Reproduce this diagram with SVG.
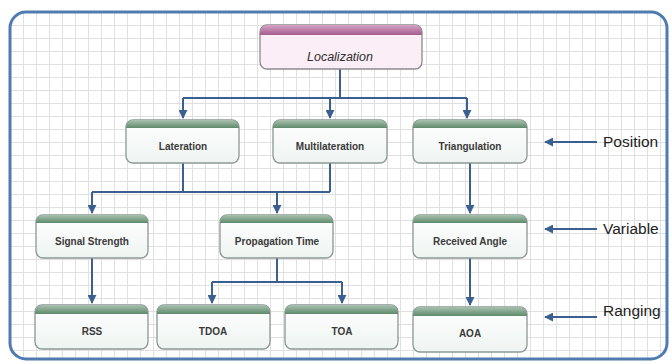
<svg xmlns="http://www.w3.org/2000/svg" width="672" height="364" viewBox="0 0 672 364">
<defs>
<pattern id="grid" width="13" height="13" patternUnits="userSpaceOnUse" x="10" y="12">
<rect width="13" height="13" fill="#ffffff"/>
<path d="M0 0.5H13M0.5 0V13" stroke="#e0e0e0" stroke-width="1" fill="none"/>
</pattern>
<linearGradient id="gHead" x1="0" y1="0" x2="0" y2="1">
<stop offset="0" stop-color="#a9c2b0"/><stop offset="1" stop-color="#5f8a6b"/>
</linearGradient>
<linearGradient id="pHead" x1="0" y1="0" x2="0" y2="1">
<stop offset="0" stop-color="#d6a3c5"/><stop offset="1" stop-color="#a35b8c"/>
</linearGradient>
<linearGradient id="gBody" x1="0" y1="0" x2="0" y2="1">
<stop offset="0" stop-color="#ffffff"/><stop offset="1" stop-color="#eef4f1"/>
</linearGradient>
<marker id="ah" viewBox="0 0 10 10" refX="9" refY="5" markerWidth="4.5" markerHeight="4.5" orient="auto" markerUnits="strokeWidth">
<path d="M0 0L10 5L0 10z" fill="#3b5f8e"/>
</marker>
<clipPath id="cLoc"><rect x="260" y="25" width="162" height="44" rx="7"/></clipPath>
</defs>
<style>
.box{fill:url(#gBody);stroke:#8c9796;stroke-width:1.3}
.hd{fill:url(#gHead)}
.lbl{font-family:"Liberation Sans",Arial,sans-serif;font-size:10px;font-weight:bold;fill:#3a3a3a;text-anchor:middle}
.side{font-family:"Liberation Sans",Arial,sans-serif;font-size:15.5px;fill:#222;}
.con{fill:none;stroke:#3b5f8e;stroke-width:2}
</style>
<rect x="0" y="0" width="672" height="364" fill="#ffffff"/>
<rect x="10" y="12" width="657" height="347" rx="16" fill="url(#grid)" stroke="#4f7bb0" stroke-width="3"/>

<g id="connectors">
<path class="con" d="M340 69V98M183 98H467"/>
<path class="con" d="M183 98V118" marker-end="url(#ah)"/>
<path class="con" d="M330 98V118" marker-end="url(#ah)"/>
<path class="con" d="M467 98V118" marker-end="url(#ah)"/>
<path class="con" d="M183 163V192M330 163V192M92 192H330"/>
<path class="con" d="M92 192V213" marker-end="url(#ah)"/>
<path class="con" d="M277 192V213" marker-end="url(#ah)"/>
<path class="con" d="M470 163V213" marker-end="url(#ah)"/>
<path class="con" d="M92 258V303" marker-end="url(#ah)"/>
<path class="con" d="M277 258V282M212 282H342"/>
<path class="con" d="M212 282V303" marker-end="url(#ah)"/>
<path class="con" d="M342 282V303" marker-end="url(#ah)"/>
<path class="con" d="M470 258V305" marker-end="url(#ah)"/>
<path class="con" d="M597 142H545" marker-end="url(#ah)"/>
<path class="con" d="M597 229H545" marker-end="url(#ah)"/>
<path class="con" d="M597 317H545" marker-end="url(#ah)"/>
</g>

<g id="localization">
<rect x="260" y="25" width="162" height="44" rx="7" fill="#fbeef6" stroke="#8c8a90" stroke-width="1.3"/>
<rect x="260" y="25" width="162" height="10" fill="url(#pHead)" clip-path="url(#cLoc)"/>
<text x="340" y="61" font-family="'Liberation Sans',Arial,sans-serif" font-size="12.5" font-style="italic" fill="#2e2e2e" text-anchor="middle">Localization</text>
</g>

<g id="lateration">
<rect class="box" x="126" y="120" width="113" height="43" rx="7"/>
<path class="hd" d="M126 128V127a7 7 0 0 1 7-7H232a7 7 0 0 1 7 7V128z"/>
<text class="lbl" x="183" y="150">Lateration</text>
</g>
<g id="multilateration">
<rect class="box" x="273" y="120" width="114" height="43" rx="7"/>
<path class="hd" d="M273 128V127a7 7 0 0 1 7-7H380a7 7 0 0 1 7 7V128z"/>
<text class="lbl" x="330" y="150">Multilateration</text>
</g>
<g id="triangulation">
<rect class="box" x="413" y="120" width="114" height="43" rx="7"/>
<path class="hd" d="M413 128V127a7 7 0 0 1 7-7H520a7 7 0 0 1 7 7V128z"/>
<text class="lbl" x="470" y="150">Triangulation</text>
</g>

<g id="signal-strength">
<rect class="box" x="36" y="215" width="112" height="43" rx="7"/>
<path class="hd" d="M36 223V222a7 7 0 0 1 7-7H141a7 7 0 0 1 7 7V223z"/>
<text class="lbl" x="92" y="245">Signal Strength</text>
</g>
<g id="propagation-time">
<rect class="box" x="220" y="215" width="113" height="43" rx="7"/>
<path class="hd" d="M220 223V222a7 7 0 0 1 7-7H326a7 7 0 0 1 7 7V223z"/>
<text class="lbl" x="277" y="245">Propagation Time</text>
</g>
<g id="received-angle">
<rect class="box" x="413" y="215" width="114" height="43" rx="7"/>
<path class="hd" d="M413 223V222a7 7 0 0 1 7-7H520a7 7 0 0 1 7 7V223z"/>
<text class="lbl" x="470" y="245">Received Angle</text>
</g>

<g id="rss">
<rect class="box" x="35" y="305" width="113" height="44" rx="7"/>
<path class="hd" d="M35 314V312a7 7 0 0 1 7-7H141a7 7 0 0 1 7 7V314z"/>
<text class="lbl" x="92" y="335">RSS</text>
</g>
<g id="tdoa">
<rect class="box" x="157" y="305" width="113" height="44" rx="7"/>
<path class="hd" d="M157 314V312a7 7 0 0 1 7-7H263a7 7 0 0 1 7 7V314z"/>
<text class="lbl" x="213" y="335">TDOA</text>
</g>
<g id="toa">
<rect class="box" x="285" y="305" width="113" height="44" rx="7"/>
<path class="hd" d="M285 314V312a7 7 0 0 1 7-7H391a7 7 0 0 1 7 7V314z"/>
<text class="lbl" x="342" y="335">TOA</text>
</g>
<g id="aoa">
<rect class="box" x="413" y="307" width="114" height="45" rx="7"/>
<path class="hd" d="M413 316V314a7 7 0 0 1 7-7H520a7 7 0 0 1 7 7V316z"/>
<text class="lbl" x="470" y="337">AOA</text>
</g>

<g id="position"><text class="side" x="603" y="147">Position</text></g>
<g id="variable"><text class="side" x="603" y="234">Variable</text></g>
<g id="ranging"><text class="side" x="603" y="316">Ranging</text></g>
</svg>
